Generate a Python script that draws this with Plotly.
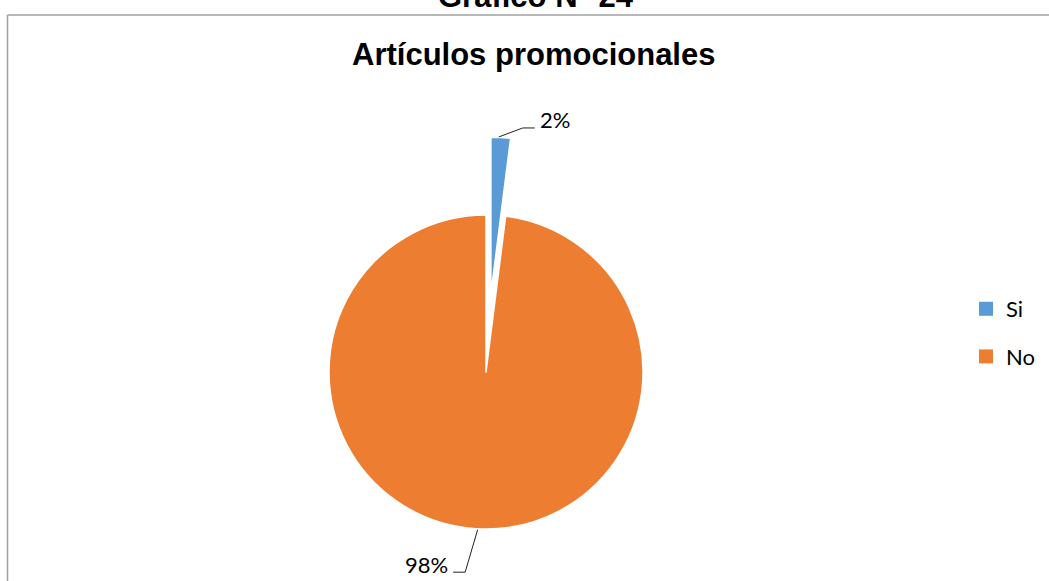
import numpy as np
import plotly.graph_objects as go

# ---- data ----
labels = ["Si", "No"]
values = [2, 98]
colors = ["#5B9BD5", "#ED7D31"]
chart_title = "Artículos promocionales"
doc_title = "Gráfico N° 24"

W, H = 1049, 581
def X(px):
    return px / W
def Y(py):
    return 1 - py / H

# pie geometry (pixels)
cx, cy, r = 486.0, 372.0, 157.0
explode = 78.0  # pixel offset of the separated slice

vals = np.array(values, dtype=float)
frac = vals / vals.sum()
pct_text = [f"{round(f*100):.0f}%" for f in frac]

# angles (clockwise from 12 o'clock) of slice mid-points
starts = np.concatenate([[0], np.cumsum(frac)[:-1]]) * 360
mids = np.radians(starts + frac * 180)

# exploded centre for first slice
ecx = cx + explode * np.sin(mids[0])
ecy = cy - explode * np.cos(mids[0])

def dom(ccx, ccy):
    return dict(x=[X(ccx - r), X(ccx + r)], y=[Y(ccy + r), Y(ccy - r)])

fig = go.Figure()

# main pie (first slice hidden)
fig.add_trace(go.Pie(
    labels=labels, values=values, sort=False, direction="clockwise", rotation=0,
    marker=dict(colors=["rgba(0,0,0,0)", colors[1]], line=dict(color="white", width=[0, 1.5])),
    textinfo="none", showlegend=False, hoverinfo="label+percent",
    domain=dom(cx, cy),
))
# exploded slice
fig.add_trace(go.Pie(
    labels=labels, values=values, sort=False, direction="clockwise", rotation=0,
    marker=dict(colors=[colors[0], "rgba(0,0,0,0)"], line=dict(color="white", width=[1.5, 0])),
    textinfo="none", showlegend=False, hoverinfo="label+percent",
    domain=dom(ecx, ecy),
))

# legend entries
for lab, col in zip(labels, colors):
    fig.add_trace(go.Scatter(
        x=[None], y=[None], mode="markers", name=lab, legendgroup=lab,
        marker=dict(symbol="square", size=14, color=col),
    ))

# leader-line anchor points
p0 = (ecx + r * np.sin(mids[0]), ecy - r * np.cos(mids[0]))
p1 = (cx + r * np.sin(mids[1]), cy - r * np.cos(mids[1]))

shapes = [
    dict(type="line", xref="paper", yref="paper", x0=X(7.5), y0=Y(15), x1=X(1049), y1=Y(15),
         line=dict(color="#A0A0A0", width=1.5)),
    dict(type="line", xref="paper", yref="paper", x0=X(7.5), y0=Y(15), x1=X(7.5), y1=Y(581),
         line=dict(color="#A0A0A0", width=1.5)),
    dict(type="path", xref="paper", yref="paper",
         path=f"M {X(p0[0]-2)},{Y(p0[1]-0.5)} L {X(p0[0]+22)},{Y(p0[1]-9.5)} L {X(p0[0]+34)},{Y(p0[1]-9.5)}",
         line=dict(color="#222222", width=1)),
    dict(type="path", xref="paper", yref="paper",
         path=f"M {X(p1[0]+1.5)},{Y(p1[1]+1)} L {X(p1[0]-11)},{Y(p1[1]+43.5)} L {X(p1[0]-23)},{Y(p1[1]+43.5)}",
         line=dict(color="#222222", width=1)),
]

annotations = [
    dict(text=f"<b>{doc_title}</b>", x=X(536), y=Y(-4), xref="paper", yref="paper",
         showarrow=False, font=dict(family="Arial, Liberation Sans", size=31, color="black"),
         xanchor="center", yanchor="middle"),
    dict(text=f"<b>{chart_title}</b>", x=X(533), y=Y(54), xref="paper", yref="paper",
         showarrow=False, font=dict(family="Arial, Liberation Sans", size=31, color="black"),
         xanchor="center", yanchor="middle"),
    dict(text=pct_text[0], x=X(p0[0] + 37), y=Y(p0[1] - 18), xref="paper", yref="paper",
         showarrow=False, font=dict(family="Lato", size=22, color="black"),
         xanchor="left", yanchor="middle"),
    dict(text=pct_text[1], x=X(p1[0] - 26), y=Y(p1[1] + 36), xref="paper", yref="paper",
         showarrow=False, font=dict(family="Lato", size=22, color="black"),
         xanchor="right", yanchor="middle"),
]

fig.update_layout(
    width=W, height=H,
    margin=dict(l=0, r=0, t=0, b=0),
    paper_bgcolor="white", plot_bgcolor="white",
    xaxis=dict(visible=False), yaxis=dict(visible=False),
    showlegend=True,
    legend=dict(x=X(966), y=Y(333), xanchor="left", yanchor="middle",
                font=dict(family="Lato", size=22, color="black"),
                tracegroupgap=16, bgcolor="rgba(0,0,0,0)"),
    shapes=shapes, annotations=annotations,
)

fig.write_html("out.html")
